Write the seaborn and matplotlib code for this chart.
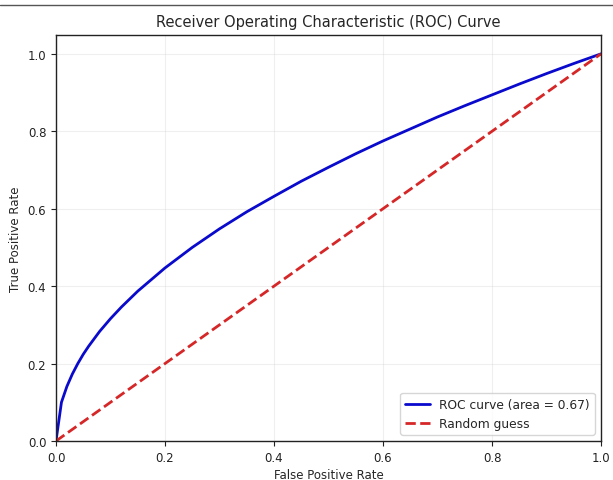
import matplotlib
matplotlib.use("Agg")
import matplotlib.pyplot as plt
from matplotlib.lines import Line2D
import seaborn as sns
import pandas as pd

# --- datos ---
fpr = [0.0, 0.01, 0.02, 0.03, 0.04, 0.05, 0.06, 0.08, 0.10, 0.12,
       0.15, 0.20, 0.25, 0.30, 0.35, 0.40, 0.45, 0.50, 0.55, 0.60,
       0.65, 0.70, 0.75, 0.80, 0.85, 0.90, 0.95, 1.0]
tpr = [0.0, 0.100, 0.141, 0.173, 0.200, 0.224, 0.245, 0.283, 0.316, 0.346,
       0.387, 0.447, 0.500, 0.548, 0.592, 0.632, 0.671, 0.707, 0.742, 0.775,
       0.806, 0.837, 0.866, 0.894, 0.922, 0.949, 0.975, 1.0]
diag_x = [0.0, 1.0]
diag_y = [0.0, 1.0]
roc_auc = 0.67

x_ticks = [0.0, 0.2, 0.4, 0.6, 0.8, 1.0]
y_ticks = [0.0, 0.2, 0.4, 0.6, 0.8, 1.0]


def main():
    sns.set_style("ticks")
    plt.rcParams["font.family"] = ["DejaVu Sans"]

    fig = plt.figure(figsize=(6.13, 4.81), dpi=100)
    ax = fig.add_axes([56 / 613, 1 - 442 / 481, 545 / 613, 406.5 / 481])

    roc_df = pd.DataFrame({"fpr": fpr, "tpr": tpr})
    diag_df = pd.DataFrame({"x": diag_x, "y": diag_y})

    sns.lineplot(data=roc_df, x="fpr", y="tpr", ax=ax, color="#0a0acd", lw=2,
                 sort=False, estimator=None,
                 label=f"ROC curve (area = {roc_auc:.2f})")
    sns.lineplot(data=diag_df, x="x", y="y", ax=ax, color="#d62728", lw=2,
                 linestyle="--", estimator=None, label="Random guess")

    ax.set_xlim(0.0, 1.0)
    ax.set_ylim(0.0, 1.05)
    ax.set_xticks(x_ticks)
    ax.set_yticks(y_ticks)
    ax.tick_params(labelsize=8.5, length=3.5, width=0.8, colors="#222222")
    ax.grid(True, alpha=0.3)
    for s in ax.spines.values():
        s.set_color("#222222")
        s.set_linewidth(1.0)

    ax.set_xlabel("False Positive Rate", fontsize=8.5, labelpad=3)
    ax.set_ylabel("True Positive Rate", fontsize=8.5, labelpad=4)
    ax.set_title("Receiver Operating Characteristic (ROC) Curve", fontsize=10.5, pad=6)
    ax.legend(loc="lower right", fontsize=8.8, frameon=True)

    # linea gris superior (borde de celda)
    fig.add_artist(Line2D([0, 1], [1 - 6 / 481] * 2, color="#555555", lw=1))

    fig.savefig("out.png", dpi=100)


if __name__ == "__main__":
    main()
